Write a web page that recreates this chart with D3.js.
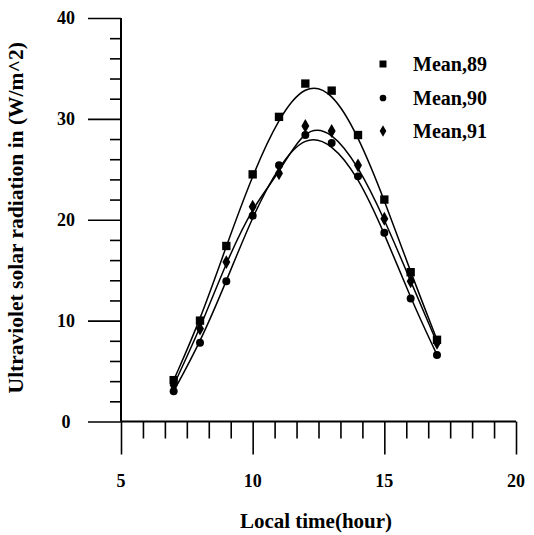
<!DOCTYPE html>
<html>
<head>
<meta charset="utf-8">
<script src="https://cdn.jsdelivr.net/npm/d3@7"></script>
<style>
  html, body { margin: 0; padding: 0; background: #fff; }
  text { font-family: "Liberation Serif", "DejaVu Serif", serif; font-weight: bold; fill: #000; }
</style>
</head>
<body>
<div id="chart"></div>
<script>
const hours = [7, 8, 9, 10, 11, 12, 13, 14, 15, 16, 17];
const mean89 = [4.1, 10.0, 17.4, 24.5, 30.2, 33.5, 32.8, 28.4, 22.0, 14.8, 8.1];
const mean90 = [3.0, 7.8, 13.9, 20.4, 25.4, 28.4, 27.6, 24.3, 18.7, 12.2, 6.6];
const mean91 = [3.6, 9.2, 15.8, 21.3, 24.6, 29.3, 28.8, 25.4, 20.1, 13.9, 7.8];
const xTicks = [5, 10, 15, 20];
const yTicks = [0, 10, 20, 30, 40];
const seriesNames = ["Mean,89", "Mean,90", "Mean,91"];

const width = 534, height = 535;
const m = { t: 18, r: 18, b: 113.5, l: 121 };

const svg = d3.select("#chart").append("svg")
  .attr("width", width)
  .attr("height", height);

const x = d3.scaleLinear().domain([5, 20]).range([m.l, width - m.r]);
const y = d3.scaleLinear().domain([0, 40]).range([height - m.b, m.t]);

// y axis: ticks pointing left, minor every 2
const yMinor = d3.range(0, 41, 2).filter(v => v % 10 !== 0);
svg.append("g")
  .attr("transform", `translate(${m.l},0)`)
  .call(d3.axisLeft(y).tickValues(yMinor).tickSize(11).tickSizeOuter(0).tickFormat(""))
  .call(g => g.select(".domain").remove())
  .selectAll("line").attr("stroke", "#000").attr("stroke-width", 1.6);
svg.append("g")
  .attr("transform", `translate(${m.l},0)`)
  .call(d3.axisLeft(y).tickValues(yTicks).tickSize(33).tickSizeOuter(0).tickFormat(""))
  .call(g => g.select(".domain").remove())
  .selectAll("line").attr("stroke", "#000").attr("stroke-width", 1.6);

// x axis: ticks pointing down, 5 minor between majors
const xMinor = d3.range(0, 19).map(i => 5 + i * 5 / 6).filter((v, i) => i % 6 !== 0);
svg.append("g")
  .attr("transform", `translate(0,${y(0)})`)
  .call(d3.axisBottom(x).tickValues(xMinor).tickSize(17).tickSizeOuter(0).tickFormat(""))
  .call(g => g.select(".domain").remove())
  .selectAll("line").attr("stroke", "#000").attr("stroke-width", 1.6);
svg.append("g")
  .attr("transform", `translate(0,${y(0)})`)
  .call(d3.axisBottom(x).tickValues(xTicks).tickSize(33).tickSizeOuter(0).tickFormat(""))
  .call(g => g.select(".domain").remove())
  .selectAll("line").attr("stroke", "#000").attr("stroke-width", 1.6);

// axis lines
svg.append("line")
  .attr("x1", x(5)).attr("x2", x(20))
  .attr("y1", y(0)).attr("y2", y(0))
  .attr("stroke", "#000").attr("stroke-width", 2);
svg.append("line")
  .attr("x1", x(5)).attr("x2", x(5))
  .attr("y1", y(40)).attr("y2", y(0))
  .attr("stroke", "#000").attr("stroke-width", 2);

// tick labels
svg.append("g").selectAll("text")
  .data(yTicks).enter().append("text")
  .attr("x", 66)
  .attr("y", d => y(d))
  .attr("dy", "0.35em")
  .attr("text-anchor", "middle")
  .attr("font-size", "18px")
  .text(d => d);

svg.append("g").selectAll("text")
  .data(xTicks).enter().append("text")
  .attr("x", d => x(d))
  .attr("y", 487)
  .attr("text-anchor", "middle")
  .attr("font-size", "18px")
  .text(d => d);

// axis titles
svg.append("text")
  .attr("x", 316)
  .attr("y", 528)
  .attr("text-anchor", "middle")
  .attr("font-size", "21px")
  .text("Local time(hour)");

svg.append("text")
  .attr("transform", `translate(23,${y(20) - 2}) rotate(-90)`)
  .attr("text-anchor", "middle")
  .attr("font-size", "21.5px")
  .text("Ultraviolet solar radiation in (W/m^2)");

// series
const series = [mean89, mean90, mean91].map((vals, i) => ({
  name: seriesNames[i],
  pts: hours.map((h, j) => ({ h, v: vals[j] }))
}));

const fit = d3.line()
  .x(d => x(d.h))
  .y(d => y(d.v))
  .curve(d3.curveBasis);

series.forEach(s => {
  svg.append("path")
    .datum(s.pts)
    .attr("fill", "none")
    .attr("stroke", "#000")
    .attr("stroke-width", 1.5)
    .attr("d", fit);
});

const shapes = [d3.symbolSquare, d3.symbolCircle, d3.symbolDiamond];
const sizes = [70, 50, 55];

series.forEach((s, i) => {
  svg.append("g").selectAll("path")
    .data(s.pts).enter().append("path")
    .attr("transform", d => `translate(${x(d.h)},${y(d.v)})`)
    .attr("d", d3.symbol().type(shapes[i]).size(sizes[i]))
    .attr("fill", "#000");
});

// legend
const legY = [64, 98, 131];
series.forEach((s, i) => {
  svg.append("path")
    .attr("transform", `translate(383,${legY[i]})`)
    .attr("d", d3.symbol().type(shapes[i]).size(sizes[i] * 0.7))
    .attr("fill", "#000");
  svg.append("text")
    .attr("x", 413)
    .attr("y", legY[i])
    .attr("dy", "0.35em")
    .attr("font-size", "20px")
    .text(s.name);
});
</script>
</body>
</html>
